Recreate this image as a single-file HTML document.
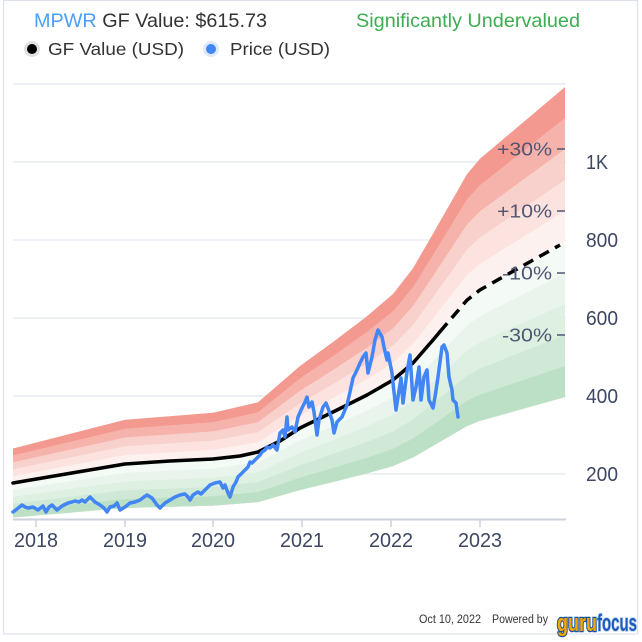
<!DOCTYPE html>
<html><head><meta charset="utf-8"><style>
html,body{margin:0;padding:0;background:#fff;}
svg{display:block;}
</style></head><body>
<svg width="642" height="642" viewBox="0 0 642 642" xmlns="http://www.w3.org/2000/svg" font-family="'Liberation Sans', Arial, sans-serif">
<rect x="0" y="0" width="642" height="642" fill="#fff"/>
<rect x="3.5" y="0.5" width="634" height="633.5" fill="none" stroke="#dde1ea" stroke-width="1.2"/>

<!-- Title -->
<text x="34" y="27" font-size="19.5" textLength="233" lengthAdjust="spacingAndGlyphs"><tspan fill="#4a9ff5">MPWR</tspan><tspan fill="#333"> GF Value: $615.73</tspan></text>
<text x="356" y="27" font-size="19.5" fill="#3cad50" textLength="224" lengthAdjust="spacingAndGlyphs">Significantly Undervalued</text>

<!-- Legend -->
<circle cx="32" cy="49" r="8" fill="#d4d4d4" opacity="0.7"/>
<circle cx="32" cy="49" r="5" fill="#000"/>
<text x="48" y="55" font-size="17.5" fill="#333" textLength="136" lengthAdjust="spacingAndGlyphs">GF Value (USD)</text>
<circle cx="211" cy="49" r="8" fill="#dbe7fc" opacity="0.9"/>
<circle cx="211" cy="49" r="5" fill="#4285f4"/>
<text x="230" y="55" font-size="17.5" fill="#333" textLength="100" lengthAdjust="spacingAndGlyphs">Price (USD)</text>

<!-- Gridlines -->
<g stroke="#e7ebf1" stroke-width="1.5">
<line x1="13" y1="84" x2="566" y2="84"/>
<line x1="13" y1="162" x2="566" y2="162"/>
<line x1="13" y1="240" x2="566" y2="240"/>
<line x1="13" y1="318" x2="566" y2="318"/>
<line x1="13" y1="396" x2="566" y2="396"/>
<line x1="13" y1="474" x2="566" y2="474"/>
</g>

<!-- Bands -->
<g>
<polygon fill="#f3998f" points="13,448.5 125,419.8 213,412.8 258,402.3 300,366.0 333,342.0 367,316.2 393,294.0 413,268.2 433,233.7 467,174.1 480,158.8 565,87.0 565,397.0 480,420.9 467,426.0 433,445.9 413,457.4 393,466.0 367,473.4 333,482.0 300,490.0 258,502.1 213,505.6 125,507.9 13,517.5"/>
<polygon fill="#f6b3ac" points="13,455.4 125,428.7 213,422.1 258,412.3 300,378.4 333,356.0 367,331.9 393,311.2 413,287.1 433,254.9 467,199.3 480,185.1 565,118.0 565,397.0 480,420.9 467,426.0 433,445.9 413,457.4 393,466.0 367,473.4 333,482.0 300,490.0 258,502.1 213,505.6 125,507.9 13,517.5"/>
<polygon fill="#f9d1cc" points="13,462.3 125,437.5 213,431.4 258,422.3 300,390.8 333,370.0 367,347.6 393,328.4 413,306.0 433,276.1 467,224.5 480,211.3 565,149.0 565,397.0 480,420.9 467,426.0 433,445.9 413,457.4 393,466.0 367,473.4 333,482.0 300,490.0 258,502.1 213,505.6 125,507.9 13,517.5"/>
<polygon fill="#fce3e0" points="13,469.2 125,446.3 213,440.6 258,432.2 300,403.2 333,384.0 367,363.4 393,345.6 413,325.0 433,297.4 467,249.7 480,237.5 565,180.0 565,397.0 480,420.9 467,426.0 433,445.9 413,457.4 393,466.0 367,473.4 333,482.0 300,490.0 258,502.1 213,505.6 125,507.9 13,517.5"/>
<polygon fill="#fdf1ef" points="13,476.1 125,455.1 213,449.9 258,442.2 300,415.6 333,398.0 367,379.1 393,362.8 413,343.9 433,318.6 467,274.9 480,263.7 565,211.0 565,397.0 480,420.9 467,426.0 433,445.9 413,457.4 393,466.0 367,473.4 333,482.0 300,490.0 258,502.1 213,505.6 125,507.9 13,517.5"/>
<polygon fill="#f4faf5" points="13,483.0 125,463.9 213,459.2 258,452.2 300,428.0 333,412.0 367,394.8 393,380.0 413,362.8 433,339.8 467,300.1 480,289.9 565,242.0 565,397.0 480,420.9 467,426.0 433,445.9 413,457.4 393,466.0 367,473.4 333,482.0 300,490.0 258,502.1 213,505.6 125,507.9 13,517.5"/>
<polygon fill="#e9f5ec" points="13,489.9 125,472.7 213,468.5 258,462.2 300,440.4 333,426.0 367,410.5 393,397.2 413,381.7 433,361.0 467,325.3 480,316.1 565,273.0 565,397.0 480,420.9 467,426.0 433,445.9 413,457.4 393,466.0 367,473.4 333,482.0 300,490.0 258,502.1 213,505.6 125,507.9 13,517.5"/>
<polygon fill="#ddf0e2" points="13,496.8 125,481.5 213,477.8 258,472.2 300,452.8 333,440.0 367,426.2 393,414.4 413,400.6 433,382.2 467,350.5 480,342.3 565,304.0 565,397.0 480,420.9 467,426.0 433,445.9 413,457.4 393,466.0 367,473.4 333,482.0 300,490.0 258,502.1 213,505.6 125,507.9 13,517.5"/>
<polygon fill="#cfe9d6" points="13,503.7 125,490.3 213,487.0 258,482.1 300,465.2 333,454.0 367,442.0 393,431.6 413,419.6 433,403.5 467,375.7 480,368.5 565,335.0 565,397.0 480,420.9 467,426.0 433,445.9 413,457.4 393,466.0 367,473.4 333,482.0 300,490.0 258,502.1 213,505.6 125,507.9 13,517.5"/>
<polygon fill="#bce0c5" points="13,510.6 125,499.1 213,496.3 258,492.1 300,477.6 333,468.0 367,457.7 393,448.8 413,438.5 433,424.7 467,400.9 480,394.7 565,366.0 565,397.0 480,420.9 467,426.0 433,445.9 413,457.4 393,466.0 367,473.4 333,482.0 300,490.0 258,502.1 213,505.6 125,507.9 13,517.5"/>
</g>

<!-- X axis -->
<line x1="13" y1="519.5" x2="566" y2="519.5" stroke="#cdd1db" stroke-width="2"/>
<g stroke="#cdd1db" stroke-width="1.5">
<line x1="36" y1="520" x2="36" y2="527"/>
<line x1="125" y1="520" x2="125" y2="527"/>
<line x1="213" y1="520" x2="213" y2="527"/>
<line x1="302" y1="520" x2="302" y2="527"/>
<line x1="391" y1="520" x2="391" y2="527"/>
<line x1="480" y1="520" x2="480" y2="527"/>
</g>
<g font-size="20" fill="#3d4663" text-anchor="middle">
<text x="36" y="547" textLength="44" lengthAdjust="spacingAndGlyphs">2018</text>
<text x="125" y="547" textLength="44" lengthAdjust="spacingAndGlyphs">2019</text>
<text x="213" y="547" textLength="44" lengthAdjust="spacingAndGlyphs">2020</text>
<text x="302" y="547" textLength="44" lengthAdjust="spacingAndGlyphs">2021</text>
<text x="391" y="547" textLength="44" lengthAdjust="spacingAndGlyphs">2022</text>
<text x="480" y="547" textLength="44" lengthAdjust="spacingAndGlyphs">2023</text>
</g>

<!-- Y labels -->
<g font-size="20" fill="#3d4663">
<text x="586" y="169" textLength="22" lengthAdjust="spacingAndGlyphs">1K</text>
<text x="586" y="247" textLength="32" lengthAdjust="spacingAndGlyphs">800</text>
<text x="586" y="325" textLength="32" lengthAdjust="spacingAndGlyphs">600</text>
<text x="586" y="403" textLength="32" lengthAdjust="spacingAndGlyphs">400</text>
<text x="586" y="481" textLength="32" lengthAdjust="spacingAndGlyphs">200</text>
</g>

<!-- GF Value line -->
<polyline fill="none" stroke="#000" stroke-width="3.5" stroke-linejoin="round" stroke-linecap="round" points="13,483 60,475 125,464 170,461 213,459 240,456 258,452 280,441 300,428 333,412 367,395 393,380 413,363 433,340 440,331.6"/>
<polyline fill="none" stroke="#000" stroke-width="3.5" stroke-dasharray="11,7" points="440,331.6 467,300.1 480,289.9 520,267.4 560,245"/>

<!-- Percent labels -->
<g font-size="18" fill="#4f5674" text-anchor="end">
<text x="552" y="155.5" textLength="55" lengthAdjust="spacingAndGlyphs">+30%</text>
<text x="552" y="217.5" textLength="55" lengthAdjust="spacingAndGlyphs">+10%</text>
<text x="552" y="279.5" textLength="50" lengthAdjust="spacingAndGlyphs">-10%</text>
<text x="552" y="341.5" textLength="50" lengthAdjust="spacingAndGlyphs">-30%</text>
</g>
<g stroke="#4f5674" stroke-width="1.5">
<line x1="557" y1="149" x2="565" y2="149"/>
<line x1="557" y1="211" x2="565" y2="211"/>
<line x1="557" y1="273" x2="565" y2="273"/>
<line x1="557" y1="335" x2="565" y2="335"/>
</g>

<!-- Price line -->
<polyline fill="none" stroke="#4285f4" stroke-width="3.5" stroke-linejoin="round" stroke-linecap="round" points="13,512 17,509 22,505 25,507 28,508 33,507 38,510 43,506 46,512 49,507 52,505 57,510 62,506 68,503 72,502 75,501 79,502 82,500 85,502 90,497 95,502 100,505 104,508 107,512 110,507 114,506 117,503 120,510 125,507 130,503 135,502 140,500 144,497 147,495 152,498 157,505 160,508 165,503 170,500 175,497 180,495 185,494 188,497 190,500 193,495 198,492 201,494 205,490 210,485 215,483 220,482 223,488 225,485 228,493 230,497 233,487 236,482 238,477 243,472 246,469 248,467 250,462 252,463 257,458 260,455 262,452 265,450 267,447 270,448 273,445 277,450 280,433 283,430 285,437 287,417 288,430 292,427 295,432 298,417 302,408 305,402 307,397 309,407 312,402 314,412 317,435 319,420 323,407 326,403 328,408 332,420 334,433 337,422 342,417 347,405 350,392 353,378 357,370 360,363 363,357 366,353 368,373 372,357 375,340 378,330 382,337 384,347 387,360 388,353 392,373 393,383 396,410 398,397 401,378 403,403 407,372 410,355 413,400 416,387 419,367 421,400 424,377 427,370 429,400 433,408 435,397 438,377 442,347 444,345 447,353 449,377 452,390 453,400 456,403 458,417"/>

<!-- Footer -->
<text x="419" y="623" font-size="11.5" fill="#333" textLength="62" lengthAdjust="spacingAndGlyphs">Oct 10, 2022</text>
<text x="492" y="623" font-size="11.5" fill="#333" textLength="56" lengthAdjust="spacingAndGlyphs">Powered by</text>
<text x="557" y="631" font-size="24" font-weight="bold" fill="#f6a800" stroke="#1d4f9c" stroke-width="2.5" paint-order="stroke" textLength="40" lengthAdjust="spacingAndGlyphs">guru</text>
<text x="597" y="631" font-size="24" font-weight="bold" fill="#1e5bb8" stroke="#c6d9f4" stroke-width="2" paint-order="stroke" textLength="40" lengthAdjust="spacingAndGlyphs">focus</text>
</svg>
</body></html>
